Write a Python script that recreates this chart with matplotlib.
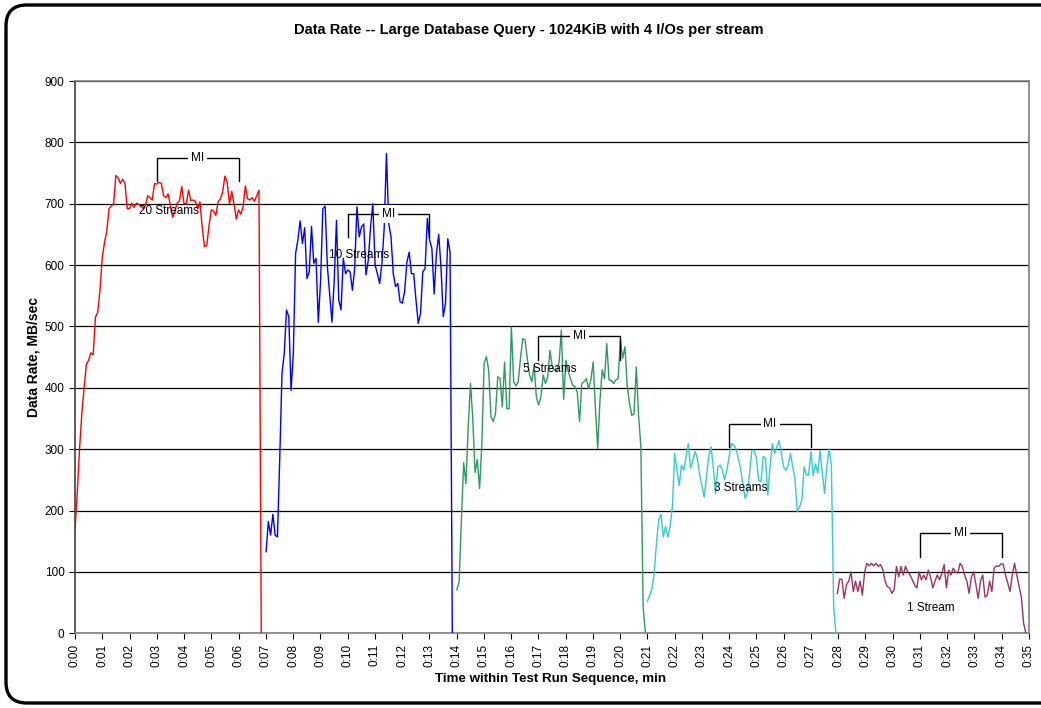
import matplotlib.pyplot as plt
from matplotlib.patches import FancyBboxPatch

plt.rcParams['font.family'] = ['Liberation Sans', 'DejaVu Sans']

# samples every 5 s (1/12 min)
SAMPLE_MIN = 1.0 / 12.0

stream_labels = ['20 Streams', '10 Streams', '5 Streams', '3 Streams', '1 Stream']
stream_colors = ['#FF0000', '#0000FF', '#2E9960', '#33CCCC', '#993366']
stream_start_min = [0.0, 7.01, 14.01, 21.0, 27.97]

rate_20 = [168, 230, 300, 358, 400, 438, 445, 457, 454, 515,
           523, 559, 613, 637, 656, 692, 696, 700, 746, 742,
           733, 740, 733, 692, 692, 701, 694, 701, 699, 697,
           692, 697, 713, 710, 706, 733, 732, 735, 733, 713,
           710, 716, 697, 678, 688, 701, 705, 728, 700, 700,
           722, 705, 706, 704, 692, 703, 662, 630, 632, 664,
           690, 688, 681, 703, 708, 719, 745, 735, 700, 720,
           700, 675, 690, 683, 695, 729, 708, 706, 710, 704,
           713, 722, 0]
rate_10 = [133, 182, 160, 194, 160, 157, 282, 423, 456, 527,
           516, 396, 456, 619, 641, 672, 635, 661, 578, 589,
           663, 603, 611, 507, 575, 692, 696, 597, 553, 507,
           575, 673, 543, 527, 611, 586, 592, 589, 559, 594,
           695, 646, 662, 667, 584, 608, 662, 700, 600, 586,
           570, 603, 660, 782, 668, 646, 586, 565, 570, 540,
           538, 557, 605, 621, 586, 586, 543, 505, 521, 589,
           594, 676, 641, 627, 553, 619, 650, 597, 516, 538,
           643, 621, 0]
rate_5 = [71, 84, 186, 278, 244, 337, 407, 350, 262, 283,
          236, 309, 440, 451, 429, 353, 345, 358, 418, 415,
          369, 442, 366, 366, 499, 410, 403, 410, 448, 480,
          478, 448, 421, 410, 437, 385, 372, 385, 421, 407,
          418, 461, 434, 429, 427, 442, 494, 381, 445, 427,
          415, 404, 402, 393, 345, 407, 410, 415, 399, 413,
          442, 366, 301, 380, 429, 415, 472, 413, 412, 407,
          413, 415, 478, 448, 467, 402, 375, 355, 358, 434,
          355, 304, 43, 0]
rate_3 = [52, 62, 73, 98, 147, 185, 194, 157, 174, 157,
          174, 206, 293, 266, 241, 274, 266, 288, 309, 269,
          282, 296, 285, 258, 241, 222, 255, 288, 304, 271,
          228, 271, 274, 266, 250, 266, 288, 309, 307, 301,
          285, 269, 244, 220, 228, 261, 298, 298, 285, 249,
          247, 288, 285, 225, 271, 309, 293, 304, 314, 291,
          271, 266, 274, 293, 271, 250, 198, 206, 217, 271,
          258, 258, 296, 257, 276, 261, 298, 261, 228, 271,
          301, 274, 43, 0]
rate_1 = [65, 88, 88, 57, 79, 85, 100, 68, 85, 68,
          85, 62, 100, 114, 110, 114, 110, 114, 109, 112,
          104, 85, 76, 74, 65, 71, 109, 92, 109, 95,
          109, 100, 95, 87, 79, 74, 100, 87, 95, 87,
          103, 92, 74, 85, 95, 87, 98, 112, 74, 103,
          95, 106, 100, 98, 114, 109, 95, 85, 65, 92,
          100, 79, 57, 85, 95, 59, 62, 85, 68, 106,
          110, 109, 113, 113, 95, 82, 68, 95, 114, 95,
          76, 59, 16, 0]
stream_rates = [rate_20, rate_10, rate_5, rate_3, rate_1]

# text label positions (time, rate)
label_min = [3.45, 10.42, 17.41, 24.44, 31.41]
label_rate = [688, 616, 430, 236, 41]

# measurement interval brackets
mi_start_min = [3, 10, 17, 24, 31]
mi_end_min = [6, 13, 20, 27, 34]
mi_top_rate = [775, 684, 484, 341, 163]
MI_LEG = 38

tick_labels = ['0:%02d' % m for m in range(36)]

fig = plt.figure(figsize=(10.41, 7.08), dpi=100)
ax = fig.add_axes([75 / 1041, 1 - 633.3 / 708, 954 / 1041, 552.3 / 708])

for start, rates, color in zip(stream_start_min, stream_rates, stream_colors):
    times = [start + i * SAMPLE_MIN for i in range(len(rates))]
    ax.plot(times, rates, color=color, linewidth=1.0, zorder=3)

for t, r, text in zip(label_min, label_rate, stream_labels):
    ax.text(t, r, text, ha='center', va='center', fontsize=8.5, zorder=4)

for t0, t1, top in zip(mi_start_min, mi_end_min, mi_top_rate):
    ax.plot([t0, t0, t1, t1], [top - MI_LEG, top, top, top - MI_LEG],
            color='black', linewidth=1.0, zorder=4)
    ax.text((t0 + t1) / 2, top, 'MI', ha='center', va='center', fontsize=8.5,
            zorder=5, bbox={'boxstyle': 'square,pad=0.25', 'fc': 'white', 'ec': 'none'})

ax.set_xlim(0, 35)
ax.set_ylim(0, 900)
ax.set_xticks(range(36))
ax.set_xticklabels(tick_labels, rotation=90, fontsize=8.5)
ax.set_yticks(range(0, 901, 100))
ax.tick_params(axis='y', labelsize=8.5, length=4, width=0.8, direction='out')
ax.tick_params(axis='x', length=4, width=0.8, direction='out')
ax.grid(True, axis='y', color='black', linewidth=0.9, zorder=1)
ax.set_axisbelow(True)
for side in ['top', 'right', 'bottom']:
    ax.spines[side].set_color('#808080')
    ax.spines[side].set_linewidth(1.2)
ax.spines['left'].set_color('#404040')
ax.spines['left'].set_linewidth(1.2)

ax.set_ylabel('Data Rate, MB/sec', fontsize=10, fontweight='bold', labelpad=3)
fig.text(551 / 1041, 1 - 679 / 708, 'Time within Test Run Sequence, min',
         ha='center', va='center', fontsize=9.6, fontweight='bold')
fig.text(529 / 1041, 1 - 30 / 708,
         'Data Rate -- Large Database Query - 1024KiB with 4 I/Os per stream',
         ha='center', va='center', fontsize=10.5, fontweight='bold')

# chart-area frame, running off the right edge as in the source picture
border = FancyBboxPatch((6 / 1041, 5 / 708), 1060 / 1041, 698 / 708,
                        boxstyle='round,pad=0,rounding_size=0.02',
                        transform=fig.transFigure, fill=False,
                        edgecolor='black', linewidth=2.4, mutation_aspect=1041 / 708)
fig.patches.append(border)

fig.savefig('out.png', dpi=100)
